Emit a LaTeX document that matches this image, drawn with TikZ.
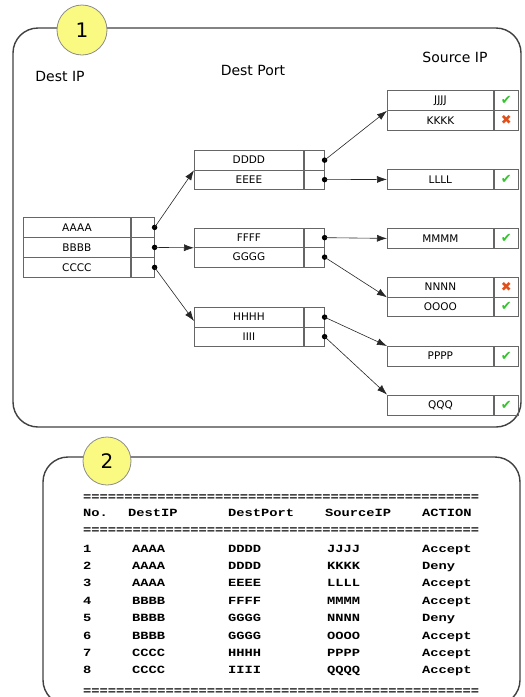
\documentclass[tikz,border=0pt]{standalone}
\usepackage{fontspec}
\setmainfont{DejaVu Sans}
\newfontfamily\tabfont[FakeStretch=1.25]{Liberation Mono}
\newfontfamily\symfont{DejaVu Sans}
\usetikzlibrary{arrows.meta}
\definecolor{badgefill}{HTML}{FAFA82}
\definecolor{okgreen}{HTML}{33C42E}
\definecolor{nored}{HTML}{E0501A}
\newcommand\tworow[7]{% name, x, y, wleft, wright, h, text
  \node[cell, anchor=north west, minimum width=#4pt, minimum height=#6pt] (#1) at (#2,#3) {#7};
  \node[cell, anchor=north west, minimum width=#5pt, minimum height=#6pt] (#1r) at (#1.north east) {};}
\begin{document}
\begin{tikzpicture}[x=1pt,y=-1pt,
  frame/.style={draw=black!75, line width=1.4pt, rounded corners=25pt},
  badge/.style={circle, draw=black!45, fill=badgefill, line width=0.8pt, minimum size=50pt, inner sep=0pt, font=\fontsize{20}{20}\selectfont},
  cell/.style={draw=black!60, line width=0.8pt, inner sep=0pt, font=\fontsize{10.5}{11}\selectfont},
  lbl/.style={font=\fontsize{14}{14}\selectfont, inner sep=0pt},
  dot/.style={circle, fill=black, inner sep=0pt, minimum size=5.5pt},
  arr/.style={-{Latex[length=10pt,width=7pt]}, line width=0.6pt, draw=black!85},
  mono/.style={font=\tabfont\bfseries\fontsize{11}{11}\selectfont, anchor=base west, inner sep=0pt},
  ok/.style={text=okgreen, font=\symfont\fontsize{13}{13}\selectfont, inner sep=0pt},
  no/.style={text=nored, font=\symfont\fontsize{13}{13}\selectfont, inner sep=0pt}]
\useasboundingbox (0,0) rectangle (525,697);
\clip (0,0) rectangle (525,697);

% ---------- panel 1 ----------
\draw[frame] (13,28) rectangle (521,427);
\node[badge] (b1) at (82,30) {1};
\node[lbl] (hIP) at (60,76) {Dest IP};
\node[lbl] (hPort) at (253,70) {Dest Port};
\node[lbl] (hSrc) at (455,57) {Source IP};

% Dest IP table
\tworow{a1}{23}{217}{107}{23}{20}{AAAA}
\tworow{a2}{23}{237}{107}{23}{20}{BBBB}
\tworow{a3}{23}{257}{107}{23}{20}{CCCC}

% Dest Port tables
\tworow{d1}{194}{150}{109}{20}{19.5}{DDDD}
\tworow{d2}{194}{169.5}{109}{20}{19.5}{EEEE}
\tworow{f1}{194}{227.5}{109}{20}{19.5}{FFFF}
\tworow{f2}{194}{247}{109}{20}{19.5}{GGGG}
\tworow{h1}{194}{307}{109}{20}{19.5}{HHHH}
\tworow{h2}{194}{326.5}{109}{20}{19.5}{IIII}

% Source IP tables
\tworow{j1}{387}{90}{106}{24}{20}{JJJJ}
\tworow{j2}{387}{110}{106}{24}{20}{KKKK}
\tworow{l1}{387}{169}{106}{24}{20}{LLLL}
\tworow{m1}{387}{228}{106}{24}{20}{MMMM}
\tworow{n1}{387}{277}{106}{24}{19.5}{NNNN}
\tworow{n2}{387}{296.5}{106}{24}{19.5}{OOOO}
\tworow{p1}{387}{346}{106}{24}{19.5}{PPPP}
\tworow{q1}{387}{394.5}{106}{24}{20.5}{QQQ}

% verdicts
\node[ok] (v1) at (j1r) {✔};
\node[no] (v2) at (j2r) {✖};
\node[ok] (v3) at (l1r) {✔};
\node[ok] (v4) at (m1r) {✔};
\node[no] (v5) at (n1r) {✖};
\node[ok] (v6) at (n2r) {✔};
\node[ok] (v7) at (p1r) {✔};
\node[ok] (v8) at (q1r) {✔};

% dots
\node[dot] (da1) at (a1r.east) {};
\node[dot] (da2) at (a2r.east) {};
\node[dot] (da3) at (a3r.east) {};
\node[dot] (dd1) at (d1r.east) {};
\node[dot] (dd2) at (d2r.east) {};
\node[dot] (df1) at (f1r.east) {};
\node[dot] (df2) at (f2r.east) {};
\node[dot] (dh1) at (h1r.east) {};
\node[dot] (dh2) at (h2r.east) {};

\coordinate (tC) at (194,321);

% connectors
\draw[arr] (da1.center) -- (d1.south west);
\draw[arr] (da2.center) -- (f1.south west);
\draw[arr] (da3.center) -- (tC);
\draw[arr] (dd1.center) -- (j1.south west);
\draw[arr] (dd2.center) -- (l1.west);
\draw[arr] (df1.center) -- (m1.west);
\draw[arr] (df2.center) -- (n1.south west);
\draw[arr] (dh1.center) -- (p1.north west);
\draw[arr] (dh2.center) -- (q1.north west);

% ---------- panel 2 ----------
\draw[frame] (43,457) rectangle (520,705);
\node[badge, minimum size=48pt] (b2) at (107,461) {2};

\node[mono] (eq1) at (83,500) {================================================};
\node[mono] (hNo) at (83,516) {No.};
\node[mono] (hD) at (128,516) {DestIP};
\node[mono] (hP) at (228,516) {DestPort};
\node[mono] (hS) at (325,516) {SourceIP};
\node[mono] (hA) at (422,516) {ACTION};
\node[mono] (eq2) at (83,533) {================================================};
\foreach \n/\ip/\pt/\src/\act [count=\i from 0] in
  {1/AAAA/DDDD/JJJJ/Accept, 2/AAAA/DDDD/KKKK/Deny, 3/AAAA/EEEE/LLLL/Accept,
   4/BBBB/FFFF/MMMM/Accept, 5/BBBB/GGGG/NNNN/Deny, 6/BBBB/GGGG/OOOO/Accept,
   7/CCCC/HHHH/PPPP/Accept, 8/CCCC/IIII/QQQQ/Accept}{
  \pgfmathsetmacro\yy{552+17.4*\i}
  \node[mono] (rn\n) at (83,\yy) {\n};
  \node[mono] (ri\n) at (132,\yy) {\ip};
  \node[mono] (rp\n) at (228,\yy) {\pt};
  \node[mono] (rs\n) at (327,\yy) {\src};
  \node[mono] (ra\n) at (422,\yy) {\act};
}
\node[mono] (eq3) at (83,694) {================================================};
\end{tikzpicture}
\end{document}
